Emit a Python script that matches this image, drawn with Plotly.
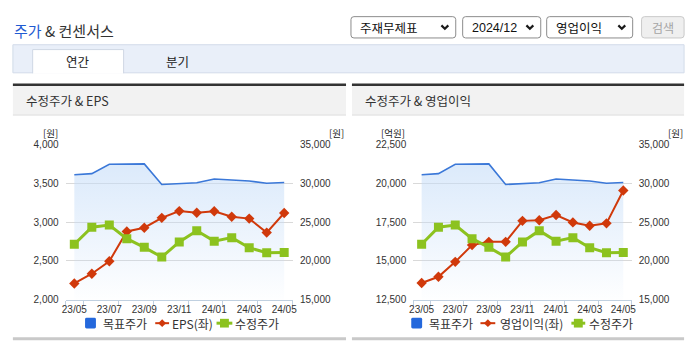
import plotly.graph_objects as go

W, H = 695, 349

# ---- data -------------------------------------------------------------
months = ["23/05", "23/06", "23/07", "23/08", "23/09", "23/10", "23/11",
          "23/12", "24/01", "24/02", "24/03", "24/04", "24/05"]
target_price = [31100, 31250, 32450, 32500, 32500, 29850, 29920, 30080,
                30550, 30400, 30300, 30000, 30100]          # 목표주가 (원)
adj_price = [22150, 24350, 24620, 22870, 21750, 20500, 22450, 23900,
             22550, 23000, 21700, 21050, 21100]             # 수정주가 (원)
eps = [2210, 2335, 2495, 2880, 2928, 3055, 3142, 3120, 3140, 3070, 3045,
       2865, 3117]                                         # EPS (원)
op_income = [13580, 13980, 14940, 16020, 16230, 16230, 17580, 17620,
             17960, 17480, 17270, 17420, 19540]             # 영업이익 (억원)

xpos = list(range(len(months)))
tick_idx = xpos[::2]
tick_txt = months[::2]
edge_ticks = [-0.5] + [i + 0.5 for i in tick_idx]

BLUE_LINE = "#3b78d8"
BLUE_KEY = "#2468dc"
RED = "#d0390b"
GREEN = "#8cc21f"
KR = "Noto Sans CJK KR"
NUM = "Liberation Sans Narrow, Liberation Sans, Arial"


def X(p):
    return p / W


def Y(p):
    return 1 - p / H


shapes, annots = [], []


def box(x0, y0, x1, y1, fill, line=None, lw=0, layer="below"):
    shapes.append(dict(type="rect", xref="paper", yref="paper",
                       x0=X(x0), x1=X(x1), y0=Y(y1), y1=Y(y0),
                       fillcolor=fill, layer=layer,
                       line=dict(color=line or fill, width=lw)))


def rbox(x0, y0, x1, y1, r, fill, line, lw=1):
    p = (f"M{X(x0 + r)},{Y(y0)} L{X(x1 - r)},{Y(y0)} Q{X(x1)},{Y(y0)} {X(x1)},{Y(y0 + r)} "
         f"L{X(x1)},{Y(y1 - r)} Q{X(x1)},{Y(y1)} {X(x1 - r)},{Y(y1)} "
         f"L{X(x0 + r)},{Y(y1)} Q{X(x0)},{Y(y1)} {X(x0)},{Y(y1 - r)} "
         f"L{X(x0)},{Y(y0 + r)} Q{X(x0)},{Y(y0)} {X(x0 + r)},{Y(y0)} Z")
    shapes.append(dict(type="path", xref="paper", yref="paper", path=p,
                       fillcolor=fill, line=dict(color=line, width=lw), layer="below"))


def polyline(pts, color, lw, layer="above"):
    p = "M" + " L".join(f"{X(a)},{Y(b)}" for a, b in pts)
    shapes.append(dict(type="path", xref="paper", yref="paper", path=p,
                       line=dict(color=color, width=lw), layer=layer))


def text(x, y, s, size=12, color="#333", anchor="left", family=KR):
    annots.append(dict(xref="paper", yref="paper", x=X(x), y=Y(y), text=s,
                       showarrow=False, xanchor=anchor, yanchor="middle",
                       font=dict(family=family, size=size, color=color)))


# ---- page header ------------------------------------------------------
text(8, 25, "<span style='color:#1f5bd2'>주가</span> & 컨센서스", size=15, color="#333")

for (x0, x1, label) in [(351, 457, "주재무제표"), (464, 543, "2024/12"), (549, 636, "영업이익")]:
    rbox(x0, 11, x1, 33, 3, "#ffffff", "#8c8c8c")
    text(x0 + 7, 22.5, label, size=12.5, color="#111",
         family=KR if not label[0].isdigit() else "Liberation Sans Narrow, Liberation Sans")
    cx = x1 - 11
    polyline([(cx - 3.5, 20), (cx, 23.5), (cx + 3.5, 20)], "#1a1a1a", 2.2)
rbox(645, 11, 688, 33, 3, "#efefef", "#c9c9c9")
text(666.5, 22.5, "검색", size=12, color="#a5a5a5", anchor="center")

# tab bar
box(9, 40, 688, 69, "#e9eff9", "#d2dbe9", 1)
box(29, 45, 121, 70, "#ffffff")
polyline([(29, 69.5), (29, 45), (121, 45), (121, 69.5)], "#cfd7e4", 1, layer="below")
text(75, 57.5, "연간", size=12.5, color="#222", anchor="center")
text(176, 57.5, "분기", size=12.5, color="#222", anchor="center")

# chart panels
for (x0, x1, title) in [(9, 346, "수정주가 & EPS"), (352, 688, "수정주가 & 영업이익")]:
    box(x0, 80, x1, 82.5, "#333333")
    box(x0, 82.5, x1, 112, "#f2f2f2")
    box(x0, 112, x1, 113, "#dadada")
    box(x0, 342, x1, 345, "#c9c9c9")
    text(x0 + 11, 98, title, size=12.5, color="#333")

# axis unit labels
text(47, 131, "[원]", size=9.5, color="#222", anchor="center")
text(336, 131, "[원]", size=9.5, color="#222", anchor="center")
text(394, 131, "[억원]", size=9.5, color="#222", anchor="center")
text(679, 131, "[원]", size=9.5, color="#222", anchor="center")


# ---- custom legends ---------------------------------------------------
def legend(sq_x, t1, r_x0, r_x1, t2, label2, g_x0, g_x1, t3):
    cy = 327.5
    rbox(sq_x, cy - 5.5, sq_x + 11, cy + 5.5, 1.5, BLUE_KEY, BLUE_KEY, 0)
    text(t1, cy, "목표주가", size=12, color="#333")
    polyline([(r_x0, cy), (r_x1, cy)], RED, 2)
    rc = (r_x0 + r_x1) / 2
    shapes.append(dict(type="path", xref="paper", yref="paper",
                       path=f"M{X(rc)},{Y(cy - 4)} L{X(rc + 4)},{Y(cy)} L{X(rc)},{Y(cy + 4)} L{X(rc - 4)},{Y(cy)} Z",
                       fillcolor=RED, line=dict(width=0)))
    text(t2, cy, label2, size=12, color="#333")
    polyline([(g_x0, cy), (g_x1, cy)], GREEN, 3)
    gc = (g_x0 + g_x1) / 2
    box(gc - 4.5, cy - 4.5, gc + 4.5, cy + 4.5, GREEN, layer="above")
    text(t3, cy, "수정주가", size=12, color="#333")


legend(82, 98.5, 153, 167, 168, "EPS(좌)", 215, 231, 232)
legend(412, 428, 482, 497, 500, "영업이익(좌)", 574, 588, 590)

# ---- traces -----------------------------------------------------------
# Each chart: base axis (right scale, price) holds the shaded target line,
# an overlay with the left scale holds EPS / 영업이익, and a hidden overlay
# with the right scale keeps 수정주가 drawn on top.
fig = go.Figure()


def add_chart(xa, ya_base, ya_left, ya_top, left_vals, left_name):
    fig.add_trace(go.Scatter(
        x=xpos, y=target_price, xaxis=xa, yaxis=ya_base, name="목표주가",
        mode="lines", line=dict(color=BLUE_LINE, width=1.6),
        fill="tozeroy",
        fillgradient=dict(type="vertical", start=15000, stop=32500,
                          colorscale=[[0, "rgba(196,220,248,0)"],
                                      [0.55, "rgba(196,220,248,0.34)"],
                                      [1, "rgba(196,220,248,0.6)"]]),
        hoverinfo="skip", showlegend=False))
    fig.add_trace(go.Scatter(
        x=xpos, y=left_vals, xaxis=xa, yaxis=ya_left, name=left_name,
        mode="lines+markers", line=dict(color=RED, width=2),
        marker=dict(symbol="diamond", size=8, color=RED), showlegend=False))
    fig.add_trace(go.Scatter(
        x=xpos, y=adj_price, xaxis=xa, yaxis=ya_top, name="수정주가",
        mode="lines+markers", line=dict(color=GREEN, width=3),
        marker=dict(symbol="square", size=9, color=GREEN), showlegend=False))


add_chart("x", "y", "y2", "y3", eps, "EPS(좌)")
add_chart("x2", "y4", "y5", "y6", op_income, "영업이익(좌)")

ydom = [Y(303.3), Y(143)]
tickfont = dict(family=NUM, size=10, color="#333")


def xaxis_cfg(x0, x1, anchor):
    return dict(domain=[X(x0), X(x1)], anchor=anchor, range=[-0.5, 12.5],
                tickmode="array", tickvals=tick_idx, ticktext=tick_txt,
                ticks="", tickfont=tickfont, showgrid=False, zeroline=False,
                showline=True, linecolor="#c0d0e0", linewidth=1,
                minor=dict(tickmode="array", tickvals=edge_ticks, ticks="outside",
                           ticklen=5, tickcolor="#c0d0e0", tickwidth=1, showgrid=False),
                fixedrange=True)


def yaxis_cfg(anchor, rng, dtick, side, grid, overlay=None, visible=True):
    d = dict(domain=ydom, anchor=anchor, range=rng, dtick=dtick, tick0=rng[0],
             side=side, tickformat=",d", tickfont=tickfont, ticks="",
             ticklabelstandoff=6, showgrid=grid, gridcolor="#d9d9d9", gridwidth=1,
             zeroline=False, showline=False, fixedrange=True, visible=visible)
    if overlay:
        d["overlaying"] = overlay
    return d


fig.update_layout(
    width=W, height=H, margin=dict(l=0, r=0, t=0, b=0),
    paper_bgcolor="#ffffff", plot_bgcolor="rgba(0,0,0,0)",
    showlegend=False,
    xaxis=xaxis_cfg(62.3, 292.3, "y"),
    yaxis=yaxis_cfg("x", [15000, 35000], 5000, "right", False),
    yaxis2=yaxis_cfg("x", [2000, 4000], 500, "left", True, "y"),
    yaxis3=yaxis_cfg("x", [15000, 35000], 5000, "right", False, "y", visible=False),
    xaxis2=xaxis_cfg(414, 635, "y4"),
    yaxis4=yaxis_cfg("x2", [15000, 35000], 5000, "right", False),
    yaxis5=yaxis_cfg("x2", [12500, 22500], 2500, "left", True, "y4"),
    yaxis6=yaxis_cfg("x2", [15000, 35000], 5000, "right", False, "y4", visible=False),
    shapes=shapes, annotations=annots,
)

fig.write_html("out.html", config={"displayModeBar": False})
